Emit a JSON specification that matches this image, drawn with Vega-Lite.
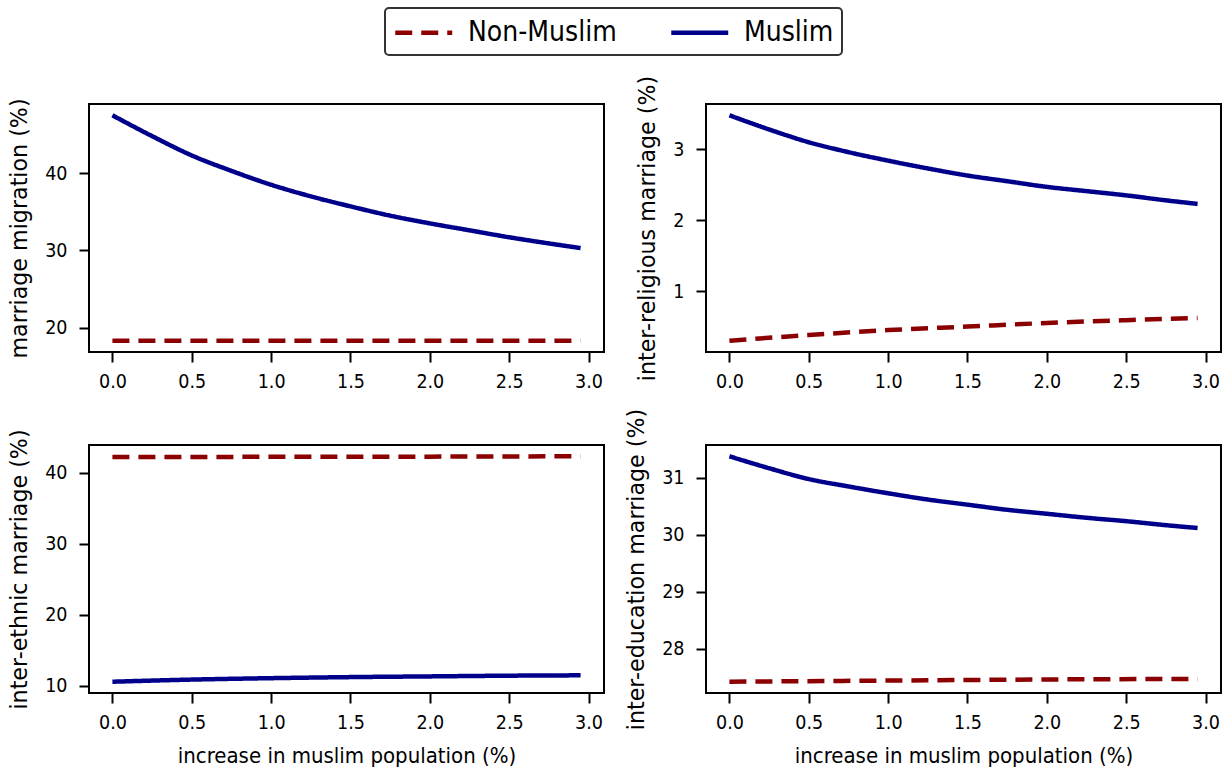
{
  "$schema": "https://vega.github.io/schema/vega-lite/v6.json",
  "padding": {"left": 7, "top": 7, "right": 5, "bottom": 5},
  "background": "white",
  "config": {
    "font": "DejaVu Sans Condensed",
    "view": {"stroke": "black", "strokeWidth": 2},
    "axis": {
      "domain": false,
      "grid": false,
      "ticks": true,
      "tickColor": "black",
      "tickWidth": 2,
      "tickSize": 10,
      "labelFont": "DejaVu Sans Condensed",
      "labelFontSize": 19.5,
      "labelColor": "black",
      "labelPadding": 12,
      "titleFont": "DejaVu Sans Condensed",
      "titleFontSize": 22,
      "titleFontWeight": "normal",
      "titleColor": "black",
      "titlePadding": 13
    },
    "axisX": {"labelPadding": 10},
    "axisY": {"titleFont": "DejaVu Sans", "titleFontSize": 22.2},
    "legend": {
      "orient": "none",
      "legendX": 296,
      "legendY": -96,
      "direction": "horizontal",
      "title": null,
      "labelFont": "DejaVu Sans Condensed",
      "labelFontSize": 28,
      "labelColor": "black",
      "labelOffset": 42,
      "symbolType": "M-1,0H3",
      "symbolSize": 812,
      "symbolStrokeWidth": 4.5,
      "columnPadding": 45,
      "padding": 8,
      "fillColor": "white",
      "strokeColor": "#333333",
      "cornerRadius": 4
    }
  },
  "data": {
    "values": [
      {"metric": "migration", "group": "Muslim", "x": 0.0, "y": 47.5},
      {"metric": "migration", "group": "Muslim", "x": 0.25, "y": 44.8},
      {"metric": "migration", "group": "Muslim", "x": 0.5, "y": 42.3},
      {"metric": "migration", "group": "Muslim", "x": 0.75, "y": 40.3},
      {"metric": "migration", "group": "Muslim", "x": 1.0, "y": 38.5},
      {"metric": "migration", "group": "Muslim", "x": 1.25, "y": 37.0},
      {"metric": "migration", "group": "Muslim", "x": 1.5, "y": 35.7},
      {"metric": "migration", "group": "Muslim", "x": 1.75, "y": 34.5},
      {"metric": "migration", "group": "Muslim", "x": 2.0, "y": 33.5},
      {"metric": "migration", "group": "Muslim", "x": 2.25, "y": 32.6},
      {"metric": "migration", "group": "Muslim", "x": 2.5, "y": 31.7},
      {"metric": "migration", "group": "Muslim", "x": 2.75, "y": 30.9},
      {"metric": "migration", "group": "Muslim", "x": 2.95, "y": 30.3},
      {"metric": "migration", "group": "Non-Muslim", "x": 0.0, "y": 18.3},
      {"metric": "migration", "group": "Non-Muslim", "x": 1.0, "y": 18.3},
      {"metric": "migration", "group": "Non-Muslim", "x": 2.0, "y": 18.3},
      {"metric": "migration", "group": "Non-Muslim", "x": 2.95, "y": 18.3},

      {"metric": "religious", "group": "Muslim", "x": 0.0, "y": 3.48},
      {"metric": "religious", "group": "Muslim", "x": 0.25, "y": 3.28},
      {"metric": "religious", "group": "Muslim", "x": 0.5, "y": 3.1},
      {"metric": "religious", "group": "Muslim", "x": 0.75, "y": 2.96},
      {"metric": "religious", "group": "Muslim", "x": 1.0, "y": 2.84},
      {"metric": "religious", "group": "Muslim", "x": 1.25, "y": 2.73},
      {"metric": "religious", "group": "Muslim", "x": 1.5, "y": 2.63},
      {"metric": "religious", "group": "Muslim", "x": 1.75, "y": 2.55},
      {"metric": "religious", "group": "Muslim", "x": 2.0, "y": 2.47},
      {"metric": "religious", "group": "Muslim", "x": 2.25, "y": 2.41},
      {"metric": "religious", "group": "Muslim", "x": 2.5, "y": 2.35},
      {"metric": "religious", "group": "Muslim", "x": 2.75, "y": 2.28},
      {"metric": "religious", "group": "Muslim", "x": 2.95, "y": 2.23},
      {"metric": "religious", "group": "Non-Muslim", "x": 0.0, "y": 0.3},
      {"metric": "religious", "group": "Non-Muslim", "x": 0.5, "y": 0.38},
      {"metric": "religious", "group": "Non-Muslim", "x": 1.0, "y": 0.45},
      {"metric": "religious", "group": "Non-Muslim", "x": 1.5, "y": 0.5},
      {"metric": "religious", "group": "Non-Muslim", "x": 2.0, "y": 0.55},
      {"metric": "religious", "group": "Non-Muslim", "x": 2.5, "y": 0.59},
      {"metric": "religious", "group": "Non-Muslim", "x": 2.95, "y": 0.62},

      {"metric": "ethnic", "group": "Muslim", "x": 0.0, "y": 10.6},
      {"metric": "ethnic", "group": "Muslim", "x": 0.5, "y": 10.9},
      {"metric": "ethnic", "group": "Muslim", "x": 1.0, "y": 11.1},
      {"metric": "ethnic", "group": "Muslim", "x": 1.5, "y": 11.25},
      {"metric": "ethnic", "group": "Muslim", "x": 2.0, "y": 11.35},
      {"metric": "ethnic", "group": "Muslim", "x": 2.5, "y": 11.45},
      {"metric": "ethnic", "group": "Muslim", "x": 2.95, "y": 11.5},
      {"metric": "ethnic", "group": "Non-Muslim", "x": 0.0, "y": 42.2},
      {"metric": "ethnic", "group": "Non-Muslim", "x": 1.0, "y": 42.22},
      {"metric": "ethnic", "group": "Non-Muslim", "x": 2.0, "y": 42.25},
      {"metric": "ethnic", "group": "Non-Muslim", "x": 2.95, "y": 42.3},

      {"metric": "education", "group": "Muslim", "x": 0.0, "y": 31.38},
      {"metric": "education", "group": "Muslim", "x": 0.25, "y": 31.17},
      {"metric": "education", "group": "Muslim", "x": 0.5, "y": 30.98},
      {"metric": "education", "group": "Muslim", "x": 0.75, "y": 30.85},
      {"metric": "education", "group": "Muslim", "x": 1.0, "y": 30.73},
      {"metric": "education", "group": "Muslim", "x": 1.25, "y": 30.62},
      {"metric": "education", "group": "Muslim", "x": 1.5, "y": 30.53},
      {"metric": "education", "group": "Muslim", "x": 1.75, "y": 30.44},
      {"metric": "education", "group": "Muslim", "x": 2.0, "y": 30.37},
      {"metric": "education", "group": "Muslim", "x": 2.25, "y": 30.3},
      {"metric": "education", "group": "Muslim", "x": 2.5, "y": 30.24},
      {"metric": "education", "group": "Muslim", "x": 2.75, "y": 30.17},
      {"metric": "education", "group": "Muslim", "x": 2.95, "y": 30.12},
      {"metric": "education", "group": "Non-Muslim", "x": 0.0, "y": 27.42},
      {"metric": "education", "group": "Non-Muslim", "x": 1.0, "y": 27.44},
      {"metric": "education", "group": "Non-Muslim", "x": 2.0, "y": 27.46},
      {"metric": "education", "group": "Non-Muslim", "x": 2.95, "y": 27.47}
    ]
  },
  "columns": 2,
  "spacing": {"row": 93, "column": 102},
  "bounds": "flush",
  "resolve": {"scale": {"y": "independent"}},
  "concat": [
    {
      "width": 515, "height": 248,
      "transform": [{"filter": "datum.metric === 'migration'"}],
      "mark": {"type": "line", "strokeWidth": 4.5, "interpolate": "monotone"},
      "encoding": {
        "x": {"field": "x", "type": "quantitative", "title": null,
              "scale": {"domain": [-0.1475, 3.0975], "nice": false, "zero": false},
              "axis": {"values": [0, 0.5, 1, 1.5, 2, 2.5, 3], "format": ".1f"}},
        "y": {"field": "y", "type": "quantitative", "title": "marriage migration (%)",
              "scale": {"domain": [16.84, 48.96], "nice": false, "zero": false},
              "axis": {"values": [20, 30, 40]}},
        "color": {"field": "group", "type": "nominal",
                  "scale": {"domain": ["Non-Muslim", "Muslim"], "range": ["#8b0000", "#00008b"]},
                  "legend": {"encode": {"legend": {"update": {"strokeWidth": {"value": 2}}}}}},
        "strokeDash": {"field": "group", "type": "nominal",
                       "scale": {"domain": ["Non-Muslim", "Muslim"], "range": [[17, 9], [1, 0]]}}
      }
    },
    {
      "width": 515, "height": 248,
      "transform": [{"filter": "datum.metric === 'religious'"}],
      "mark": {"type": "line", "strokeWidth": 4.5, "interpolate": "monotone"},
      "encoding": {
        "x": {"field": "x", "type": "quantitative", "title": null,
              "scale": {"domain": [-0.1475, 3.0975], "nice": false, "zero": false},
              "axis": {"values": [0, 0.5, 1, 1.5, 2, 2.5, 3], "format": ".1f"}},
        "y": {"field": "y", "type": "quantitative", "title": "inter-religious marriage (%)",
              "scale": {"domain": [0.141, 3.639], "nice": false, "zero": false},
              "axis": {"values": [1, 2, 3]}},
        "color": {"field": "group", "type": "nominal",
                  "scale": {"domain": ["Non-Muslim", "Muslim"], "range": ["#8b0000", "#00008b"]}},
        "strokeDash": {"field": "group", "type": "nominal",
                       "scale": {"domain": ["Non-Muslim", "Muslim"], "range": [[17, 9], [1, 0]]}}
      }
    },
    {
      "width": 515, "height": 248,
      "transform": [{"filter": "datum.metric === 'ethnic'"}],
      "mark": {"type": "line", "strokeWidth": 4.5, "interpolate": "monotone"},
      "encoding": {
        "x": {"field": "x", "type": "quantitative", "title": "increase in muslim population (%)",
              "scale": {"domain": [-0.1475, 3.0975], "nice": false, "zero": false},
              "axis": {"values": [0, 0.5, 1, 1.5, 2, 2.5, 3], "format": ".1f", "titlePadding": 14}},
        "y": {"field": "y", "type": "quantitative", "title": "inter-ethnic marriage (%)",
              "scale": {"domain": [9.015, 43.885], "nice": false, "zero": false},
              "axis": {"values": [10, 20, 30, 40]}},
        "color": {"field": "group", "type": "nominal",
                  "scale": {"domain": ["Non-Muslim", "Muslim"], "range": ["#8b0000", "#00008b"]}},
        "strokeDash": {"field": "group", "type": "nominal",
                       "scale": {"domain": ["Non-Muslim", "Muslim"], "range": [[17, 9], [1, 0]]}}
      }
    },
    {
      "width": 515, "height": 248,
      "transform": [{"filter": "datum.metric === 'education'"}],
      "mark": {"type": "line", "strokeWidth": 4.5, "interpolate": "monotone"},
      "encoding": {
        "x": {"field": "x", "type": "quantitative", "title": "increase in muslim population (%)",
              "scale": {"domain": [-0.1475, 3.0975], "nice": false, "zero": false},
              "axis": {"values": [0, 0.5, 1, 1.5, 2, 2.5, 3], "format": ".1f", "titlePadding": 14}},
        "y": {"field": "y", "type": "quantitative", "title": "inter-education marriage (%)",
              "scale": {"domain": [27.222, 31.578], "nice": false, "zero": false},
              "axis": {"values": [28, 29, 30, 31]}},
        "color": {"field": "group", "type": "nominal",
                  "scale": {"domain": ["Non-Muslim", "Muslim"], "range": ["#8b0000", "#00008b"]}},
        "strokeDash": {"field": "group", "type": "nominal",
                       "scale": {"domain": ["Non-Muslim", "Muslim"], "range": [[17, 9], [1, 0]]}}
      }
    }
  ]
}
